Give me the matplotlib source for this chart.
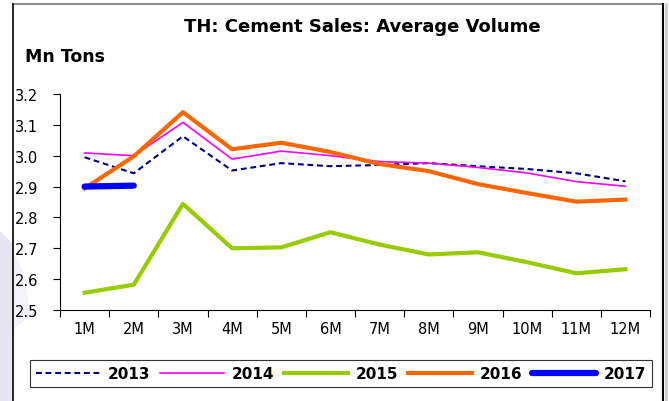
import numpy as np
import matplotlib.pyplot as plt
from matplotlib.patches import Polygon

plt.rcParams['font.family'] = ['DejaVu Sans']

# data
months = ['1M', '2M', '3M', '4M', '5M', '6M', '7M', '8M', '9M', '10M', '11M', '12M']
y2013 = [2.995, 2.943, 3.063, 2.952, 2.976, 2.966, 2.970, 2.976, 2.966, 2.957, 2.943, 2.917]
y2014 = [3.009, 3.000, 3.108, 2.989, 3.015, 3.000, 2.981, 2.976, 2.962, 2.944, 2.916, 2.901]
y2015 = [2.556, 2.582, 2.844, 2.700, 2.703, 2.752, 2.712, 2.680, 2.687, 2.655, 2.619, 2.632]
y2016 = [2.894, 2.998, 3.141, 3.021, 3.042, 3.012, 2.973, 2.950, 2.908, 2.879, 2.851, 2.858]
y2017 = [2.900, 2.903]
years = ['2013', '2014', '2015', '2016', '2017']

W, H = 669, 402
fig = plt.figure(figsize=(W / 100, H / 100), dpi=100)

# background decoration and outer frame (pixel coords)
bg = fig.add_axes([0, 0, 1, 1])
bg.set_xlim(0, W)
bg.set_ylim(H, 0)
bg.axis('off')
bg.add_patch(Polygon([(0, 232), (0, H), (13, H), (13, 245)],
                     closed=True, facecolor='#e6e6f2', edgecolor='none'))
bg.add_patch(Polygon([(13, 250), (13, 330), (30, 318), (26, 280)],
                     closed=True, facecolor='#f2f2f8', edgecolor='none'))
bg.plot([13, 663], [4.5, 4.5], color='#909090', lw=1.5)
bg.plot([13, 13], [4.5, H], color='black', lw=1.2)
bg.plot([663, 663], [4.5, H], color='black', lw=1.5)
bg.plot([665.5, 665.5], [4.5, H], color='#d0d0d0', lw=2)

ax = fig.add_axes([60 / W, 1 - 311 / H, (650 - 60) / W, (311 - 95) / H])
ax.patch.set_alpha(0)
x = np.arange(1, 13)
ax.plot(x, y2013, color='#000080', lw=1.5, ls=(0, (2.8, 1.8)), label=years[0])
ax.plot(x, y2014, color='#ff00ff', lw=1.2, label=years[1])
ax.plot(x, y2015, color='#99cc00', lw=3, label=years[2])
ax.plot(x, y2016, color='#ff6600', lw=3, label=years[3])
ax.plot(x[:2], y2017, color='#0000ff', lw=4.5, solid_capstyle='round', label=years[4])

ax.set_xlim(0.5, 12.5)
ax.set_ylim(2.5, 3.2)
ax.set_yticks(np.arange(2.5, 3.21, 0.1))
ax.set_yticklabels([f'{v:.1f}' for v in np.arange(2.5, 3.21, 0.1)], fontsize=10.5)
ax.set_xticks(np.arange(0.5, 12.6, 1))
ax.set_xticklabels([])
ax.set_xticks(x, minor=True)
ax.set_xticklabels(months, minor=True, fontsize=10.5)
ax.tick_params(axis='x', which='minor', length=0, pad=8)
ax.tick_params(axis='x', which='major', length=5, width=0.8)
ax.tick_params(axis='y', length=5, width=0.8, pad=10.5)
for s in ['top', 'right']:
    ax.spines[s].set_visible(False)
ax.spines['left'].set_linewidth(0.8)
ax.spines['bottom'].set_linewidth(0.8)

fig.text(362 / W, 1 - 27 / H, 'TH: Cement Sales: Average Volume', ha='center', va='center',
         fontsize=13, fontweight='bold')
fig.text(25 / W, 1 - 57 / H, 'Mn Tons', ha='left', va='center', fontsize=12.5, fontweight='bold')

leg = fig.legend(loc='lower left', bbox_to_anchor=(30 / W, 1 - 388 / H, 622 / W, 26 / H),
                 mode='expand', ncol=5, frameon=True, fancybox=False, handlelength=4.2,
                 handletextpad=0.5, columnspacing=0.8, borderaxespad=0,
                 prop={'weight': 'bold', 'size': 11})
leg.get_frame().set_edgecolor('black')
leg.get_frame().set_linewidth(0.8)

fig.savefig('out.png', dpi=100)
